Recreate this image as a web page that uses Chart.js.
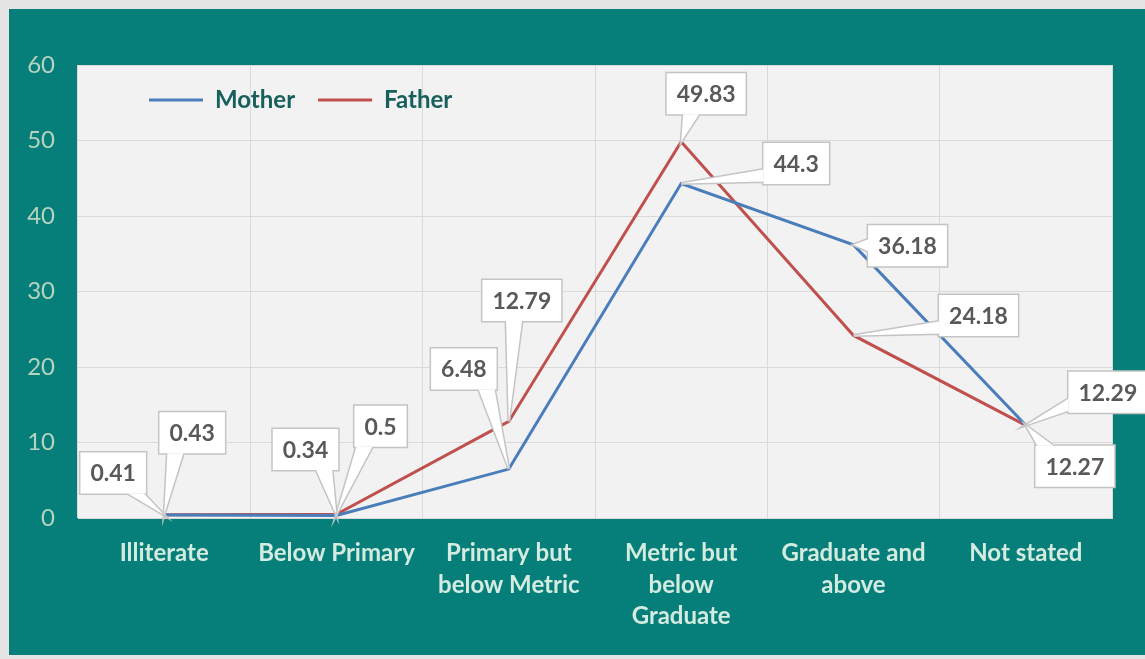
<!DOCTYPE html>
<html>
<head>
<meta charset="utf-8">
<script src="https://cdn.jsdelivr.net/npm/chart.js@4.4.0/dist/chart.umd.min.js"></script>
<style>
  html, body { margin: 0; padding: 0; background: #e4e4e4; }
  #marco { position: absolute; left: 9px; top: 9px; width: 1136px; height: 646px; background: #067f7b; }
</style>
</head>
<body>
<div id="marco"><canvas id="grafico"></canvas></div>
<script>
// Datos.
const categorias = [
  ["Illiterate"],
  ["Below Primary"],
  ["Primary but", "below Metric"],
  ["Metric but", "below", "Graduate"],
  ["Graduate and", "above"],
  ["Not stated"]
];
const madre = [0.41, 0.34, 6.48, 44.3, 36.18, 12.29];
const padre = [0.43, 0.5, 12.79, 49.83, 24.18, 12.27];
const ticksY = [0, 10, 20, 30, 40, 50, 60];

// Desplazamiento (px) de cada globo respecto a su punto.
const desplMadre = [[-51, -42], [-31, -66], [-45, -100], [115, -20], [54, 1], [82, -33]];
const desplPadre = [[28, -82], [44, -88], [13, -121], [25, -48], [125, -20], [49, 41]];

const FUENTE = "Lato, 'Open Sans', sans-serif";

// Fondo gris del área de trazado.
const fondoArea = {
  id: "fondoArea",
  beforeDraw(chart) {
    const { ctx, chartArea: a } = chart;
    ctx.save();
    ctx.fillStyle = "#f2f2f2";
    ctx.fillRect(a.left, a.top, a.right - a.left, a.bottom - a.top);
    ctx.restore();
  }
};

// Leyenda dentro del área de trazado.
const moverLeyenda = {
  id: "moverLeyenda",
  afterLayout(chart) {
    const lg = chart.legend;
    if (!lg) return;
    lg.left = 117;
    lg.right = 700;
    lg.width = lg.right - lg.left;
    lg.top = chart.chartArea.top;
    lg.bottom = lg.top + 80;
    lg.height = 80;
  }
};

// Globos de etiquetas de datos (estilo llamada de Excel).
const globos = {
  id: "globos",
  afterDatasetsDraw(chart) {
    const ctx = chart.ctx;
    ctx.save();
    ctx.font = "bold 23px " + FUENTE;
    chart.data.datasets.forEach((ds, i) => {
      const meta = chart.getDatasetMeta(i);
      meta.data.forEach((pt, j) => {
        const texto = String(ds.data[j]);
        const [ox, oy] = ds.despl[j];
        const w = ctx.measureText(texto).width + 20;
        const h = 41;
        const cx = pt.x + ox, cy = pt.y + oy;
        const l = cx - w / 2, t = cy - h / 2, r = cx + w / 2, b = cy + h / 2;
        const dx = pt.x - cx, dy = pt.y - cy;
        let p1, p2;
        if (Math.abs(dx) / (w / 2) > Math.abs(dy) / (h / 2)) {
          const ex = dx > 0 ? r : l;
          const by = Math.min(Math.max(cy + dy * 0.6, t + 8), b - 8);
          p1 = [ex, by - 6]; p2 = [ex, by + 6];
        } else {
          const ey = dy > 0 ? b : t;
          const bx = Math.min(Math.max(cx + dx * 0.6, l + 10), r - 10);
          p1 = [bx - 8, ey]; p2 = [bx + 8, ey];
        }
        ctx.beginPath();
        ctx.rect(l, t, w, h);
        ctx.moveTo(p1[0], p1[1]);
        ctx.lineTo(pt.x, pt.y);
        ctx.lineTo(p2[0], p2[1]);
        ctx.closePath();
        ctx.lineWidth = 3;
        ctx.strokeStyle = "#c4c4c4";
        ctx.stroke();
        ctx.fillStyle = "#ffffff";
        ctx.beginPath(); ctx.rect(l, t, w, h); ctx.fill();
        ctx.beginPath();
        ctx.moveTo(p1[0], p1[1]); ctx.lineTo(pt.x, pt.y); ctx.lineTo(p2[0], p2[1]); ctx.closePath();
        ctx.fill();
        ctx.fillStyle = "#595959";
        ctx.textAlign = "center";
        ctx.textBaseline = "middle";
        ctx.fillText(texto, cx, cy + 1);
      });
    });
    ctx.restore();
  }
};

new Chart(document.getElementById("grafico"), {
  type: "line",
  data: {
    labels: categorias,
    datasets: [
      {
        label: "Mother",
        data: madre,
        despl: desplMadre,
        borderColor: "#4a7ebb",
        backgroundColor: "#4a7ebb",
        borderWidth: 3,
        pointRadius: 0,
        tension: 0
      },
      {
        label: "Father",
        data: padre,
        despl: desplPadre,
        borderColor: "#c0504d",
        backgroundColor: "#c0504d",
        borderWidth: 3,
        pointRadius: 0,
        tension: 0
      }
    ]
  },
  options: {
    responsive: true,
    maintainAspectRatio: false,
    animation: false,
    layout: { padding: { top: 56, right: 33, bottom: 0, left: 0 } },
    plugins: {
      tooltip: { enabled: false },
      legend: {
        position: "top",
        align: "start",
        maxHeight: 0.01,
        labels: {
          usePointStyle: true,
          pointStyle: "line",
          pointStyleWidth: 54,
          padding: 23,
          color: "#17605c",
          font: { family: FUENTE, size: 24, weight: "bold" }
        }
      }
    },
    scales: {
      x: {
        offset: true,
        grid: { offset: true, color: "#d9d9d9", drawTicks: false },
        border: { color: "#d9d9d9" },
        afterFit: s => { s.height = 137; },
        ticks: {
          autoSkip: false,
          maxRotation: 0,
          padding: 20,
          color: "#d4ebe0",
          font: { family: FUENTE, size: 24, weight: "bold", lineHeight: 1.3 }
        }
      },
      y: {
        min: ticksY[0],
        max: ticksY[ticksY.length - 1],
        grid: { color: "#d9d9d9", drawTicks: false },
        border: { display: false },
        afterFit: s => { s.width = 69; },
        ticks: {
          stepSize: ticksY[1] - ticksY[0],
          padding: 23,
          color: "#b5d3bf",
          font: { family: FUENTE, size: 24 }
        }
      }
    }
  },
  plugins: [fondoArea, moverLeyenda, globos]
});
</script>
</body>
</html>
